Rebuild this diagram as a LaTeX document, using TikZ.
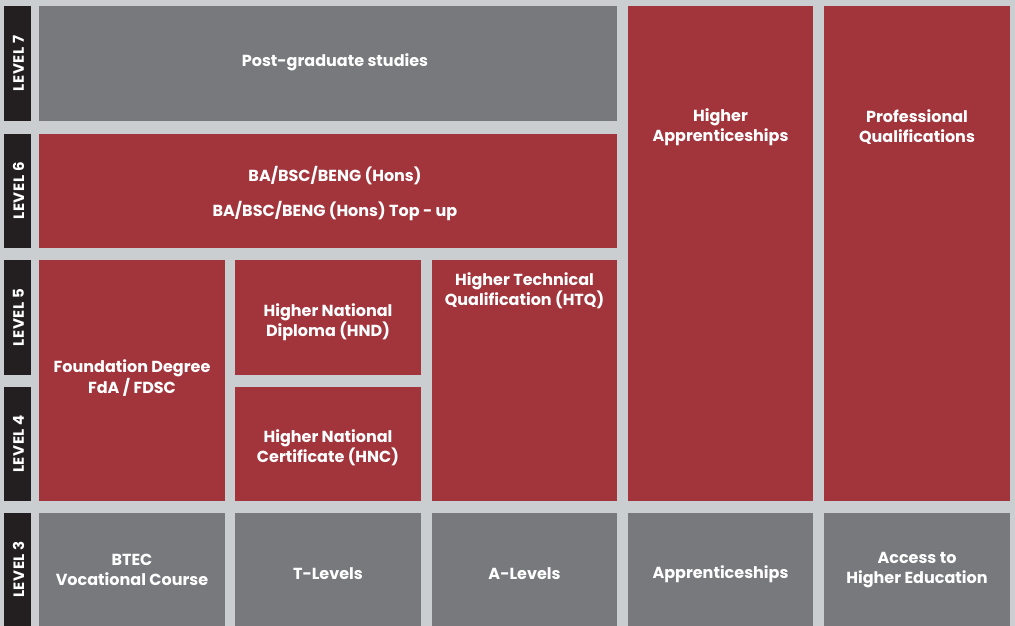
\documentclass[tikz,border=0pt]{standalone}
\usepackage{fontspec}
\setmainfont{Poppins}
\definecolor{bgc}{HTML}{CBCED1}
\definecolor{boxred}{HTML}{A2343C}
\definecolor{boxgray}{HTML}{78797D}
\definecolor{bardark}{HTML}{231F20}
\begin{document}
\begin{tikzpicture}[x=1pt,y=-1pt,
  cell/.style={rectangle,anchor=north west,inner sep=0pt,outer sep=0pt,draw=none},
  redcell/.style={cell,fill=boxred},
  graycell/.style={cell,fill=boxgray},
  bar/.style={cell,fill=bardark},
  txt/.style={text=white,align=center,inner sep=0pt,font=\bfseries\fontsize{16}{19.5}\selectfont},
  lvl/.style={text=white,rotate=90,inner sep=0pt,font=\bfseries\fontsize{15}{15}\selectfont\addfontfeature{LetterSpace=4}}]
\fill[bgc] (0,0) rectangle (1015,626);
\useasboundingbox (0,0) rectangle (1015,626);
% level bars
\node[bar,minimum width=27pt,minimum height=115pt] (b7) at (4,6) {};
\node[bar,minimum width=27pt,minimum height=114pt] (b6) at (4,134) {};
\node[bar,minimum width=27pt,minimum height=115pt] (b5) at (4,260) {};
\node[bar,minimum width=27pt,minimum height=114pt] (b4) at (4,387) {};
\node[bar,minimum width=27pt,minimum height=113pt] (b3) at (4,513) {};
\node[lvl] (l7) at ([xshift=1pt]b7.center) {LEVEL 7};
\node[lvl] (l6) at ([xshift=1pt]b6.center) {LEVEL 6};
\node[lvl] (l5) at ([xshift=1pt]b5.center) {LEVEL 5};
\node[lvl] (l4) at ([xshift=1pt]b4.center) {LEVEL 4};
\node[lvl] (l3) at ([xshift=1pt]b3.center) {LEVEL 3};
% boxes
\node[graycell,minimum width=578pt,minimum height=115pt] (pg) at (39,6) {};
\node[redcell,minimum width=578pt,minimum height=114pt] (ba) at (39,134) {};
\node[redcell,minimum width=186pt,minimum height=241pt] (fd) at (39,260) {};
\node[redcell,minimum width=186pt,minimum height=115pt] (hnd) at (235,260) {};
\node[redcell,minimum width=186pt,minimum height=114pt] (hnc) at (235,387) {};
\node[redcell,minimum width=185pt,minimum height=241pt] (htq) at (432,260) {};
\node[redcell,minimum width=185pt,minimum height=495pt] (ha) at (628,6) {};
\node[redcell,minimum width=186pt,minimum height=495pt] (pq) at (824,6) {};
\node[graycell,minimum width=186pt,minimum height=113pt] (btec) at (39,513) {};
\node[graycell,minimum width=186pt,minimum height=113pt] (tl) at (235,513) {};
\node[graycell,minimum width=185pt,minimum height=113pt] (al) at (432,513) {};
\node[graycell,minimum width=185pt,minimum height=113pt] (ap) at (628,513) {};
\node[graycell,minimum width=186pt,minimum height=113pt] (ahe) at (824,513) {};
% texts
\node[txt] (tpg) at (335,62) {Post-graduate studies};
\node[txt] (tba1) at (335,176) {BA/BSC/BENG (Hons)};
\node[txt] (tba2) at (335,211) {BA/BSC/BENG (Hons) Top - up};
\node[txt] (tfd) at (132,378) {Foundation Degree\\FdA / FDSC};
\node[txt] (thnd) at (328,322) {Higher National\\Diploma (HND)};
\node[txt] (thnc) at (328,448) {Higher National\\Certificate (HNC)};
\node[txt] (thtq) at (524.5,291) {Higher Technical\\Qualification (HTQ)};
\node[txt] (tha) at (720.5,127) {Higher\\Apprenticeships};
\node[txt] (tpq) at (917,127) {Professional\\Qualifications};
\node[txt] (tbtec) at (132,570) {BTEC\\Vocational Course};
\node[txt] (ttl) at (328,574) {T-Levels};
\node[txt] (tal) at (524.5,574) {A-Levels};
\node[txt] (tap) at (720.5,574) {Apprenticeships};
\node[txt] (tahe) at (917,570) {Access to\\Higher Education};
\end{tikzpicture}
\end{document}
